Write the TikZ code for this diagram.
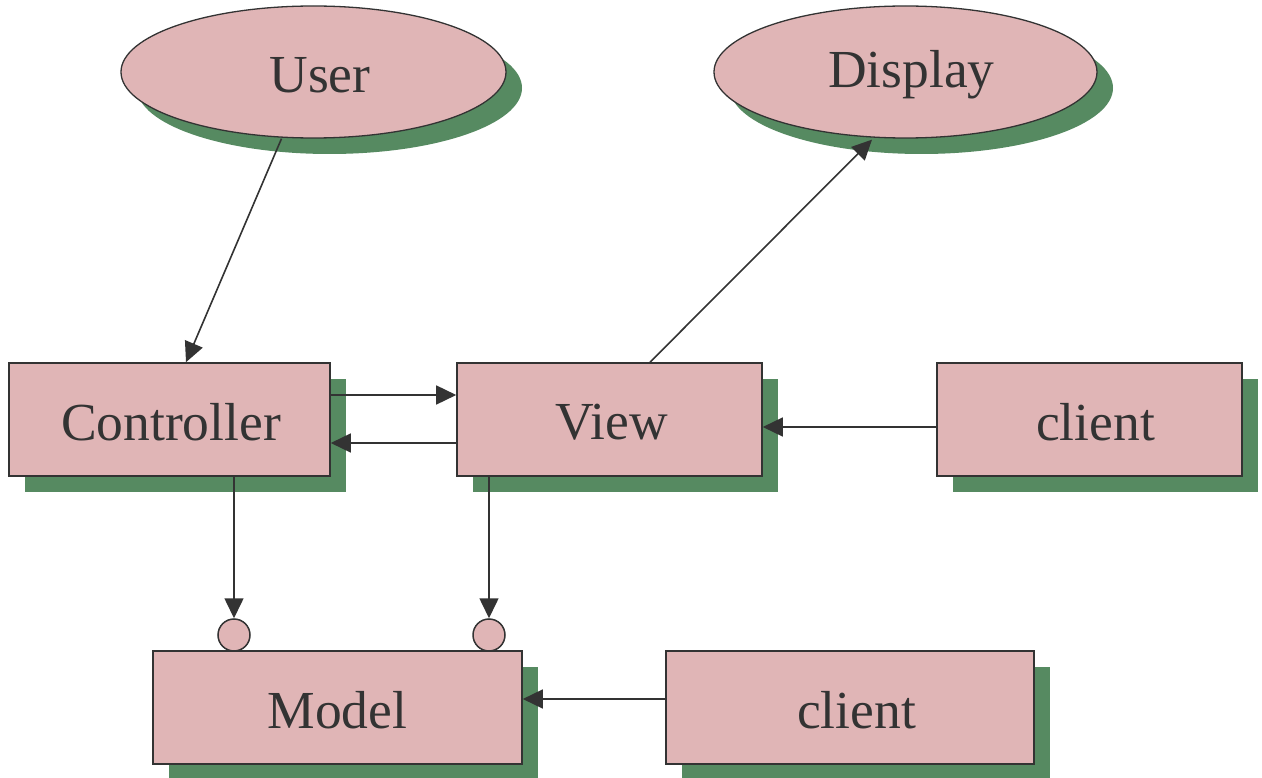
\documentclass[tikz,border=0pt]{standalone}
\usepackage{fontspec}
\setmainfont{Liberation Serif}
\usetikzlibrary{shapes.geometric,shadows,arrows.meta}
\definecolor{boxfill}{HTML}{E0B5B6}
\definecolor{shgreen}{HTML}{568A61}
\definecolor{ink}{HTML}{333333}
% label set a little lower and, by the given padding, a little to the right
\newcommand\lbl[2]{\raisebox{-3pt}[\height][\depth]{\hspace*{#1}#2}}
\tikzset{
  shade/.style={drop shadow={shadow xshift=16pt, shadow yshift=-16pt, fill=shgreen, opacity=1}},
  unit/.style={shade, rectangle, draw=ink, line width=1.6pt, fill=boxfill, text=ink,
    minimum height=113pt, inner sep=0pt, font=\fontsize{53.5}{60}\selectfont},
  actor/.style={shade, ellipse, draw=ink, line width=1.3pt, fill=boxfill, text=ink,
    minimum width=385pt, minimum height=132pt, inner sep=0pt, font=\fontsize{53.5}{60}\selectfont},
  port/.style={circle, draw=ink, line width=1.5pt, fill=boxfill, minimum size=32pt, inner sep=0pt},
  link/.style={draw=ink, line width=1.6pt, -{Triangle[length=20pt, width=19pt]}, color=ink}
}
\begin{document}
\begin{tikzpicture}[x=1pt,y=-1pt]
\useasboundingbox (0,0) rectangle (1262,778);

% actors
\node[actor] (user) at (313.5,72) {\lbl{13pt}{User}};
\node[actor, minimum width=383pt] (display) at (905.5,72) {\lbl{12pt}{Display}};

% components
\node[unit, minimum width=321pt] (ctrl) at (169.5,419.5) {\lbl{3pt}{Controller}};
\node[unit, minimum width=305pt] (view) at (609.5,419.5) {\lbl{4pt}{View}};
\node[unit, minimum width=305pt] (clienta) at (1089.5,419.5) {\lbl{12pt}{client}};
\node[unit, minimum width=369pt] (model) at (337.5,707.5) {\lbl{0pt}{Model}};
\node[unit, minimum width=368pt] (clientb) at (850,707.5) {\lbl{13pt}{client}};

% model ports
\node[port] (p1) at (234,635) {};
\node[port] (p2) at (489,635) {};

% connectors
\draw[link] ([xshift=-32pt]user.south) -- ([xshift=16.5pt]ctrl.north);
\draw[link] ([xshift=40.5pt]view.north) -- ([xshift=-33.5pt,yshift=-1pt]display.south);
\draw[link] ([yshift=24.5pt]ctrl.east) -- ([yshift=24.5pt]view.west);
\draw[link] ([yshift=-23.5pt]view.west) -- ([yshift=-23.5pt]ctrl.east);
\draw[link] ([yshift=-7.5pt]clienta.west) -- ([yshift=-7.5pt]view.east);
\draw[link] ([yshift=8.5pt]clientb.west) -- ([yshift=8.5pt]model.east);
\draw[link] ([xshift=64.5pt]ctrl.south) -- (p1.north);
\draw[link] ([xshift=-120.5pt]view.south) -- (p2.north);
\end{tikzpicture}
\end{document}
